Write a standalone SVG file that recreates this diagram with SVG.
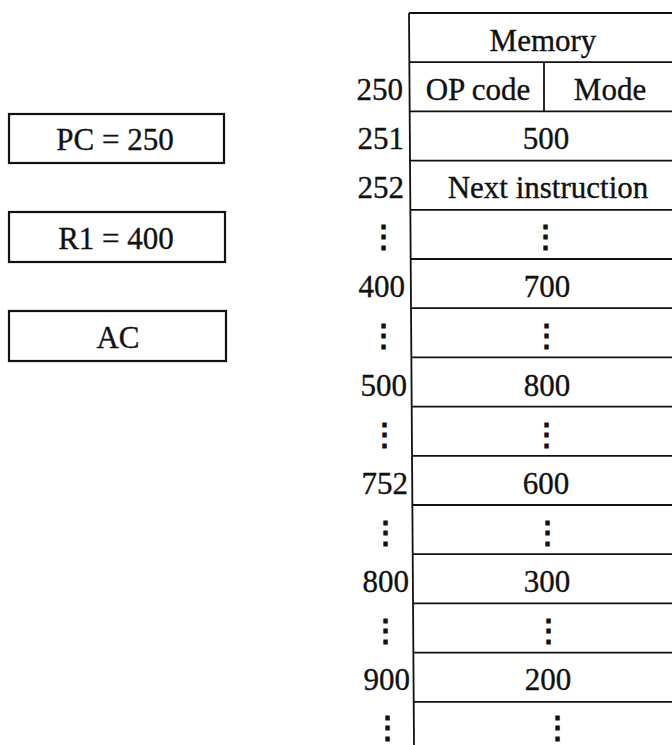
<svg xmlns="http://www.w3.org/2000/svg" width="672" height="745" viewBox="0 0 672 745">
<style>
text{font-family:"Liberation Serif","Times New Roman",serif;font-size:31px;fill:#111;stroke:#111;stroke-width:0.35}
.c{text-anchor:middle}
.r{text-anchor:end}
.v{font-family:"DejaVu Serif",serif;font-size:31px;stroke-width:1.2}
.ln{stroke:#111;stroke-width:1.8;fill:none}
.bx{stroke:#111;stroke-width:2.2;fill:none}
</style>
<rect width="672" height="745" fill="#fff"/>
<g id="pc"><rect class="bx" x="9" y="114" width="215" height="49"/><text class="c" x="115" y="150">PC = 250</text></g>
<g id="r1"><rect class="bx" x="9" y="212" width="216" height="50"/><text class="c" x="116" y="249">R1 = 400</text></g>
<g id="ac"><rect class="bx" x="9" y="311" width="217" height="50"/><text class="c" x="118" y="348">AC</text></g>
<g id="memory">
<path class="ln" d="M409 13 L414 745"/>
<path class="ln" d="M409 13H672M409 62.2H672M410 111.4H672M410 160.6H672M410 209.8H672M410 259H672M411 308.2H672M411 357.4H672M412 406.6H672M412 455.8H672M412 505H672M413 554.2H672M413 603.4H672M413 652.6H672M414 701.8H672"/>
<path class="ln" d="M544 62.2V111.4"/>
<text class="c" x="543" y="51">Memory</text>
<text class="r" x="403" y="100">250</text><text class="c" x="478" y="100">OP code</text><text class="c" x="610" y="100">Mode</text>
<text class="r" x="404" y="149">251</text><text class="c" x="546" y="149">500</text>
<text class="r" x="404" y="198">252</text><text class="c" x="548" y="198">Next instruction</text>
<text class="c v" x="383" y="247">⋮</text><text class="c v" x="545" y="247">⋮</text>
<text class="r" x="405" y="297">400</text><text class="c" x="547" y="297">700</text>
<text class="c v" x="383" y="346">⋮</text><text class="c v" x="546" y="346">⋮</text>
<text class="r" x="407" y="396">500</text><text class="c" x="547" y="396">800</text>
<text class="c v" x="384" y="445">⋮</text><text class="c v" x="546" y="445">⋮</text>
<text class="r" x="408" y="494">752</text><text class="c" x="546" y="494">600</text>
<text class="c v" x="385" y="543">⋮</text><text class="c v" x="547" y="543">⋮</text>
<text class="r" x="409" y="592">800</text><text class="c" x="547" y="592">300</text>
<text class="c v" x="385" y="641">⋮</text><text class="c v" x="548" y="641">⋮</text>
<text class="r" x="410" y="690">900</text><text class="c" x="548" y="690">200</text>
<text class="c v" x="387" y="738">⋮</text><text class="c v" x="557" y="738">⋮</text>
</g>
</svg>
